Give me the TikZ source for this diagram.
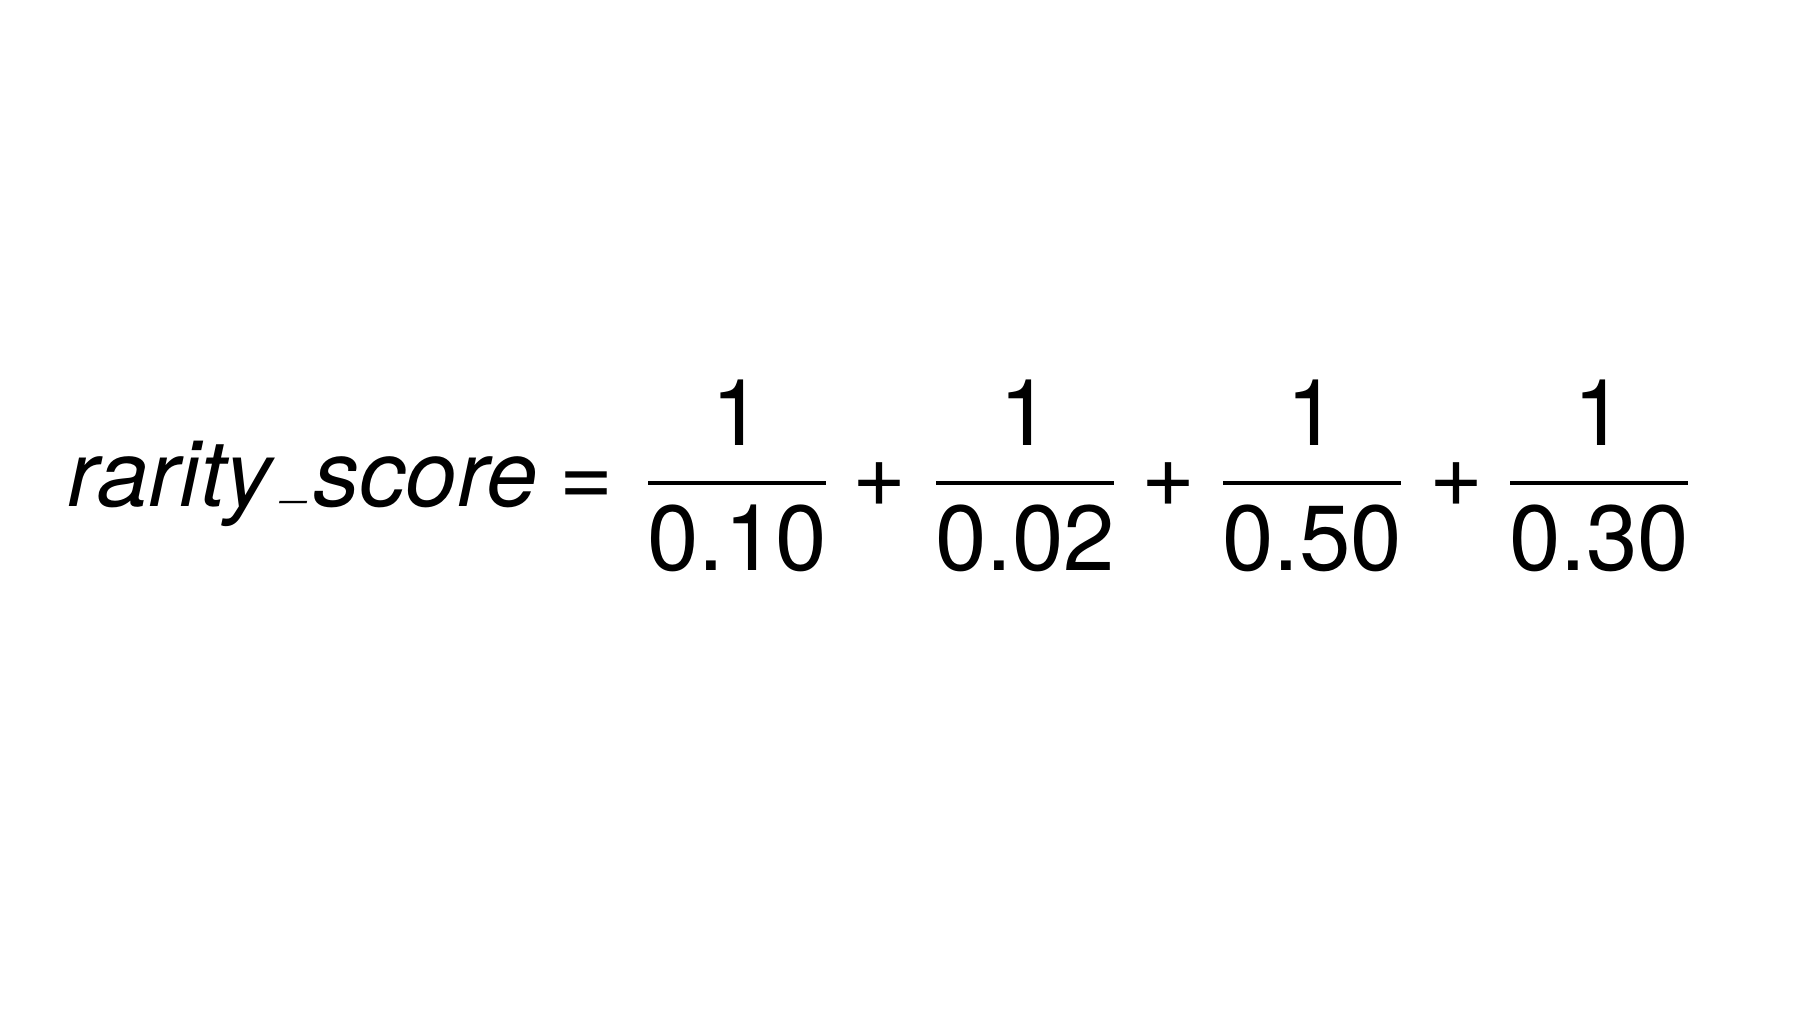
\documentclass[tikz,border=0pt]{standalone}
\usepackage{fontspec}
\setmainfont{TeX Gyre Heros}
\begin{document}
\begin{tikzpicture}[x=0.5pt,y=-0.5pt,
  txt/.style={inner sep=0pt, outer sep=0pt, font=\fontsize{46.25}{55}\selectfont},
  fracbar/.style={line width=2pt, line cap=butt}]
\fill[white] (0,0) rectangle (1800,1013);
\useasboundingbox (0,0) rectangle (1800,1013);
% left-hand side
\node[txt, anchor=base west] (lhs) at (68,506)
  {\itshape rarity\kern6.25pt\raisebox{5.5pt}{\fontsize{23.125}{28}\selectfont\_}\kern1.5pt score};
\node[txt, anchor=base] (eq) at (587,506) {=};
% fraction 1
\node[txt, anchor=base] (n1) at (737,445) {1};
\node[txt, anchor=base] (d1) at (737,570) {0.10};
\draw[fracbar] (648,483) -- (826,483);
\node[txt, anchor=base] (p1) at (880,506) {+};
% fraction 2
\node[txt, anchor=base] (n2) at (1025,445) {1};
\node[txt, anchor=base] (d2) at (1025,570) {0.02};
\draw[fracbar] (936,483) -- (1114,483);
\node[txt, anchor=base] (p2) at (1168,506) {+};
% fraction 3
\node[txt, anchor=base] (n3) at (1312,445) {1};
\node[txt, anchor=base] (d3) at (1312,570) {0.50};
\draw[fracbar] (1223,483) -- (1401,483);
\node[txt, anchor=base] (p3) at (1456,506) {+};
% fraction 4
\node[txt, anchor=base] (n4) at (1599,445) {1};
\node[txt, anchor=base] (d4) at (1599,570) {0.30};
\draw[fracbar] (1510,483) -- (1688,483);
\end{tikzpicture}
\end{document}
